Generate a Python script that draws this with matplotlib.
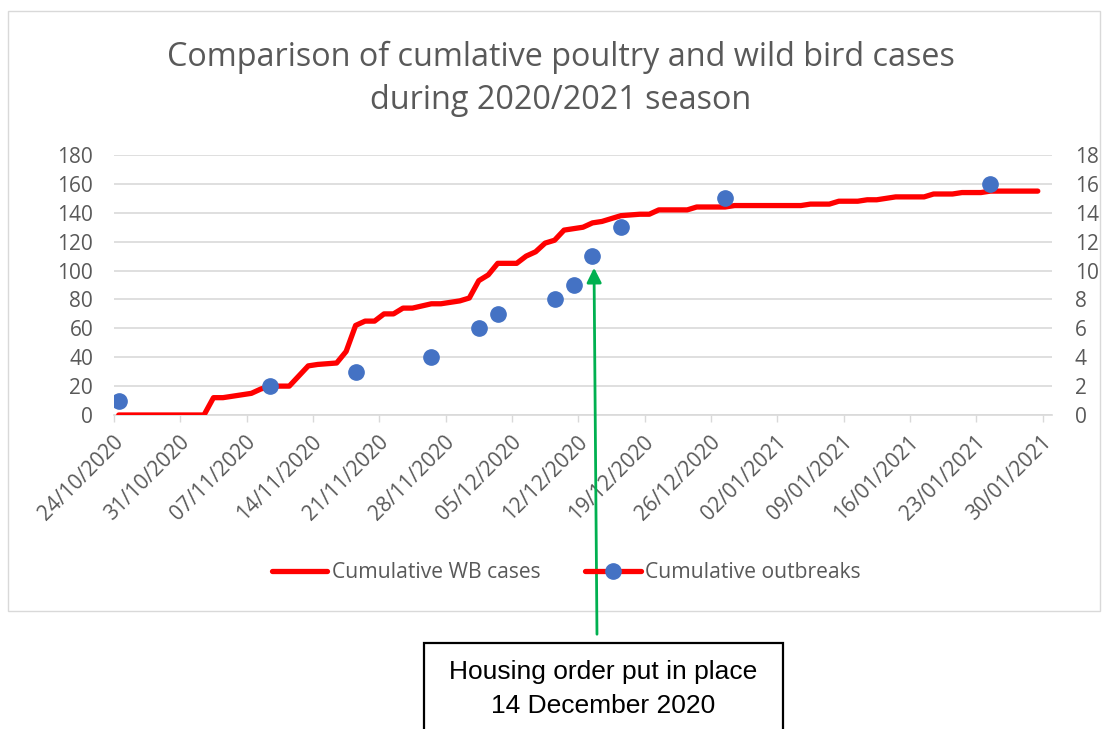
import matplotlib
matplotlib.use("Agg")
import matplotlib.pyplot as plt
import matplotlib.transforms as mtrans
from matplotlib.lines import Line2D
from matplotlib.patches import Rectangle, FancyArrowPatch
import pandas as pd

# ---------------- data ----------------
wb_dates = ["24/10/2020", "02/11/2020", "03/11/2020", "04/11/2020", "06/11/2020", "07/11/2020",
            "08/11/2020", "09/11/2020", "11/11/2020", "13/11/2020", "14/11/2020", "16/11/2020",
            "17/11/2020", "18/11/2020", "19/11/2020", "20/11/2020", "21/11/2020", "22/11/2020",
            "23/11/2020", "24/11/2020", "26/11/2020", "27/11/2020", "28/11/2020", "29/11/2020",
            "30/11/2020", "01/12/2020", "02/12/2020", "03/12/2020", "05/12/2020", "06/12/2020",
            "07/12/2020", "08/12/2020", "09/12/2020", "10/12/2020", "11/12/2020", "12/12/2020",
            "13/12/2020", "14/12/2020", "15/12/2020", "16/12/2020", "18/12/2020", "19/12/2020",
            "20/12/2020", "23/12/2020", "24/12/2020", "27/12/2020", "28/12/2020", "04/01/2021",
            "05/01/2021", "07/01/2021", "08/01/2021", "10/01/2021", "11/01/2021", "12/01/2021",
            "14/01/2021", "17/01/2021", "18/01/2021", "20/01/2021", "21/01/2021", "23/01/2021",
            "24/01/2021", "29/01/2021"]
wb_values = [0, 0, 12, 12, 14, 15,
             18, 20, 20, 34, 35, 36,
             44, 62, 65, 65, 70, 70,
             74, 74, 77, 77, 78, 79,
             81, 93, 97, 105, 105, 110,
             113, 119, 121, 128, 129, 130,
             133, 134, 136, 138, 139, 139,
             142, 142, 144, 144, 145, 145,
             146, 146, 148, 148, 149, 149,
             151, 151, 153, 153, 154, 154,
             155, 155]

outbreak_dates = ["24/10/2020", "09/11/2020", "18/11/2020", "26/11/2020", "01/12/2020", "03/12/2020",
                  "09/12/2020", "11/12/2020", "13/12/2020", "16/12/2020", "27/12/2020", "24/01/2021"]
outbreak_values = [1, 2, 3, 4, 6, 7, 8, 9, 11, 13, 15, 16]

tick_dates = ["24/10/2020", "31/10/2020", "07/11/2020", "14/11/2020", "21/11/2020",
              "28/11/2020", "05/12/2020", "12/12/2020", "19/12/2020", "26/12/2020",
              "02/01/2021", "09/01/2021", "16/01/2021", "23/01/2021", "30/01/2021"]
axis_end = "31/01/2021"

title = "Comparison of cumlative poultry and wild bird cases\nduring 2020/2021 season"
box_text = "Housing order put in place\n14 December 2020"

# ---------------- figure ----------------
W, H = 1102, 729
fig = plt.figure(figsize=(W / 100, H / 100), dpi=100)
fig.patch.set_facecolor("white")

def fx(px):
    return px / W

def fy(py):
    return 1 - py / H

GRAY = "#595959"
GRID = "#D9D9D9"
FONT = "Open Sans"
TICK_FS = 15

# chart area border
fig.add_artist(Rectangle((fx(8), fy(611)), fx(1100 - 8), (611 - 11) / H,
                         transform=fig.transFigure, fill=False, edgecolor=GRID, lw=1.0))

ax = fig.add_axes([fx(114), fy(415), fx(1052 - 114), (415 - 155) / H])
ax2 = ax.twinx()

half_day = pd.Timedelta(hours=12)
xw = pd.to_datetime(wb_dates, format="%d/%m/%Y") + half_day
xo = pd.to_datetime(outbreak_dates, format="%d/%m/%Y") + half_day
xt = pd.to_datetime(tick_dates, format="%d/%m/%Y")

ax.plot(xw, wb_values, color="#FF0000", lw=3.8, solid_capstyle="round",
        solid_joinstyle="round", zorder=3)
ax2.plot(xo, outbreak_values, linestyle="none", marker="o", markersize=11,
         color="#4472C4", zorder=4)

ax.set_xlim(xt[0], pd.to_datetime(axis_end, format="%d/%m/%Y"))
ax.set_ylim(0, 180)
ax2.set_ylim(0, 18)
ax.set_yticks(range(0, 181, 20))
ax2.set_yticks(range(0, 19, 2))
ax.set_xticks(xt)
ax.set_xticklabels(tick_dates, rotation=45, ha="right", va="center",
                   rotation_mode="anchor")
ax.tick_params(axis="x", length=5, color=GRID, width=1, pad=12,
               labelsize=TICK_FS, labelcolor=GRAY)
ax.tick_params(axis="y", length=0, pad=15, labelsize=TICK_FS, labelcolor=GRAY)
ax2.tick_params(axis="y", length=0, pad=16.5, labelsize=TICK_FS, labelcolor=GRAY)
shift = mtrans.ScaledTranslation(6 / 100, 0, fig.dpi_scale_trans)
for lab in ax.get_xticklabels():
    lab.set_fontfamily(FONT)
    lab.set_transform(lab.get_transform() + shift)
for lab in ax.get_yticklabels() + ax2.get_yticklabels():
    lab.set_fontfamily(FONT)
ax.grid(axis="y", color=GRID, lw=1.2)
ax.set_axisbelow(True)
for a in (ax, ax2):
    for s in ("top", "left", "right"):
        a.spines[s].set_visible(False)
    a.spines["bottom"].set_color(GRID)
    a.spines["bottom"].set_linewidth(1.2)
    a.patch.set_visible(False)
ax2.spines["bottom"].set_visible(False)

# title
fig.text(fx(561), fy(79), title, ha="center", va="center", fontsize=23.3,
         color=GRAY, family=FONT, linespacing=1.43)

# legend
h1 = Line2D([], [], color="#FF0000", lw=3.8, solid_capstyle="round")
h2 = Line2D([], [], color="#FF0000", lw=3.8, solid_capstyle="round",
            marker="o", markersize=11, markerfacecolor="#4472C4",
            markeredgecolor="#4472C4")
leg = fig.legend([h1, h2], ["Cumulative WB cases", "Cumulative outbreaks"],
                 loc="center", bbox_to_anchor=(fx(566), fy(573)), ncol=2,
                 frameon=False, handlelength=2.65, handletextpad=0.2,
                 columnspacing=2.1, prop={"family": FONT, "size": 15.2})
for t in leg.get_texts():
    t.set_color(GRAY)

# annotation arrow and box
fig.add_artist(FancyArrowPatch((fx(597), fy(637)), (fx(594), fy(265)),
                               transform=fig.transFigure, arrowstyle="-|>",
                               mutation_scale=22, color="#00B050", lw=2))
fig.add_artist(Rectangle((fx(424), fy(740)), fx(783 - 424), (740 - 643) / H,
                         transform=fig.transFigure, fill=True, facecolor="white",
                         edgecolor="black", lw=1.6, clip_on=False))
fig.text(fx(603), fy(689), box_text, ha="center", va="center", fontsize=19,
         color="black", family="Liberation Sans", linespacing=1.5)

fig.savefig("out.png", dpi=100)
